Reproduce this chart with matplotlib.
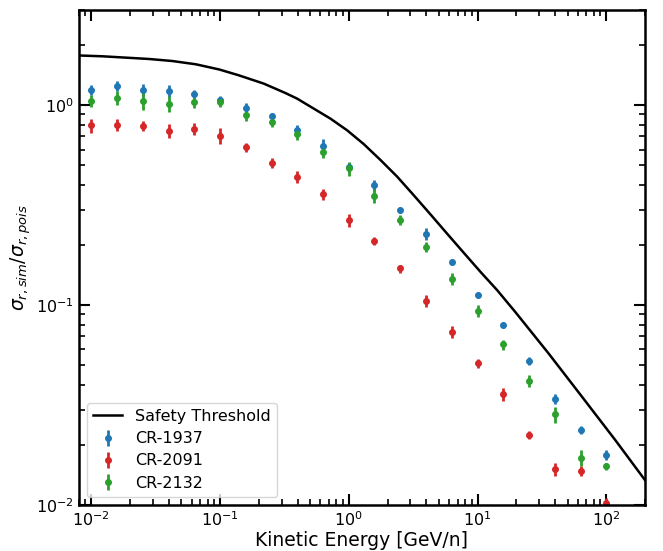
import numpy as np
import matplotlib
matplotlib.use("Agg")
import matplotlib.pyplot as plt

# kinetic energy bins [GeV/n], 5 per decade
energy = [0.01, 0.0158, 0.0251, 0.0398, 0.0631, 0.1, 0.158, 0.251, 0.398, 0.631,
          1.0, 1.58, 2.51, 3.98, 6.31, 10.0, 15.8, 25.1, 39.8, 63.1, 100.0]

# sigma_sim / sigma_pois per crater
cr1937 = [1.189, 1.249, 1.189, 1.175, 1.144, 1.059, 0.974, 0.884, 0.750, 0.626,
          0.491, 0.398, 0.299, 0.228, 0.164, 0.1128, 0.0792, 0.0527, 0.0339, 0.0237, 0.0178]
cr1937_err = [0.068, 0.072, 0.082, 0.081, 0.053, 0.049, 0.056, 0.030, 0.043, 0.050,
              0.025, 0.027, 0.010, 0.016, 0.0057, 0.0039, 0.0027, 0.0024, 0.0019, 0.0011, 0.0010]

cr2091 = [0.794, 0.801, 0.788, 0.744, 0.759, 0.702, 0.616, 0.513, 0.439, 0.358,
          0.266, 0.209, 0.1526, 0.1047, 0.0735, 0.0511, 0.0358, 0.0224, 0.0151, 0.01479, 0.0102]
cr2091_err = [0.064, 0.055, 0.045, 0.060, 0.052, 0.065, 0.035, 0.029, 0.030, 0.021,
              0.021, 0.0096, 0.0070, 0.0072, 0.0051, 0.0024, 0.0025, 0.0010, 0.0012, 0.00085, 0.0007]

cr2132 = [1.056, 1.088, 1.056, 1.015, 1.035, 1.033, 0.893, 0.829, 0.722, 0.587,
          0.483, 0.351, 0.266, 0.1957, 0.135, 0.0939, 0.0636, 0.0418, 0.0284, 0.01724, 0.0156]
cr2132_err = [0.073, 0.087, 0.109, 0.093, 0.071, 0.048, 0.062, 0.048, 0.050, 0.041,
              0.039, 0.028, 0.015, 0.011, 0.0093, 0.0065, 0.0037, 0.0029, 0.0026, 0.0016, 0.0007]

# safety threshold curve
thr_energy = [0.008, 0.01225, 0.0186, 0.02825, 0.0426, 0.065, 0.0986, 0.1393, 0.218,
              0.321, 0.396, 0.718, 0.968, 1.303, 1.757, 2.368, 3.187, 4.295, 5.79,
              7.795, 10.6, 14.16, 19.6, 35.6, 64.7, 117.5, 200.0]
thr_value = [1.775, 1.758, 1.731, 1.704, 1.665, 1.603, 1.51, 1.413, 1.284,
             1.152, 1.080, 0.858, 0.750, 0.640, 0.533, 0.440, 0.355, 0.285, 0.228,
             0.183, 0.146, 0.119, 0.0925, 0.0573, 0.0348, 0.0211, 0.0133]

fig, ax = plt.subplots(figsize=(6.63, 5.51), dpi=100)
fig.subplots_adjust(left=0.119, right=0.973, top=0.982, bottom=0.0835)

ax.plot(thr_energy, thr_value, color="black", lw=1.8, label="Safety Threshold")

series = [
    ("CR-1937", cr1937, cr1937_err, "#1f77b4"),
    ("CR-2091", cr2091, cr2091_err, "#d62728"),
    ("CR-2132", cr2132, cr2132_err, "#2ca02c"),
]
for name, vals, errs, col in series:
    ax.errorbar(energy, vals, yerr=errs, fmt="o", color=col, ms=4,
                elinewidth=2, capsize=0, label=name)

ax.set_xscale("log")
ax.set_yscale("log")
ax.set_xlim(0.008, 200)
ax.set_ylim(0.01, 3)

ax.set_xlabel("Kinetic Energy [GeV/n]", fontsize=13.5, labelpad=2)
ax.set_ylabel(r"$\sigma_{r,sim}/\sigma_{r,pois}$", fontsize=13.5, labelpad=2)

ax.tick_params(which="both", direction="in", top=True, right=True, labelsize=11.5)
ax.tick_params(which="major", length=8, width=1.5)
ax.tick_params(which="minor", length=4, width=1.2)
for sp in ax.spines.values():
    sp.set_linewidth(1.8)

ax.legend(loc="lower left", fontsize=11.5, framealpha=0.8,
          labelspacing=0.45, handlelength=1.8)

fig.savefig("out.png", dpi=100)
